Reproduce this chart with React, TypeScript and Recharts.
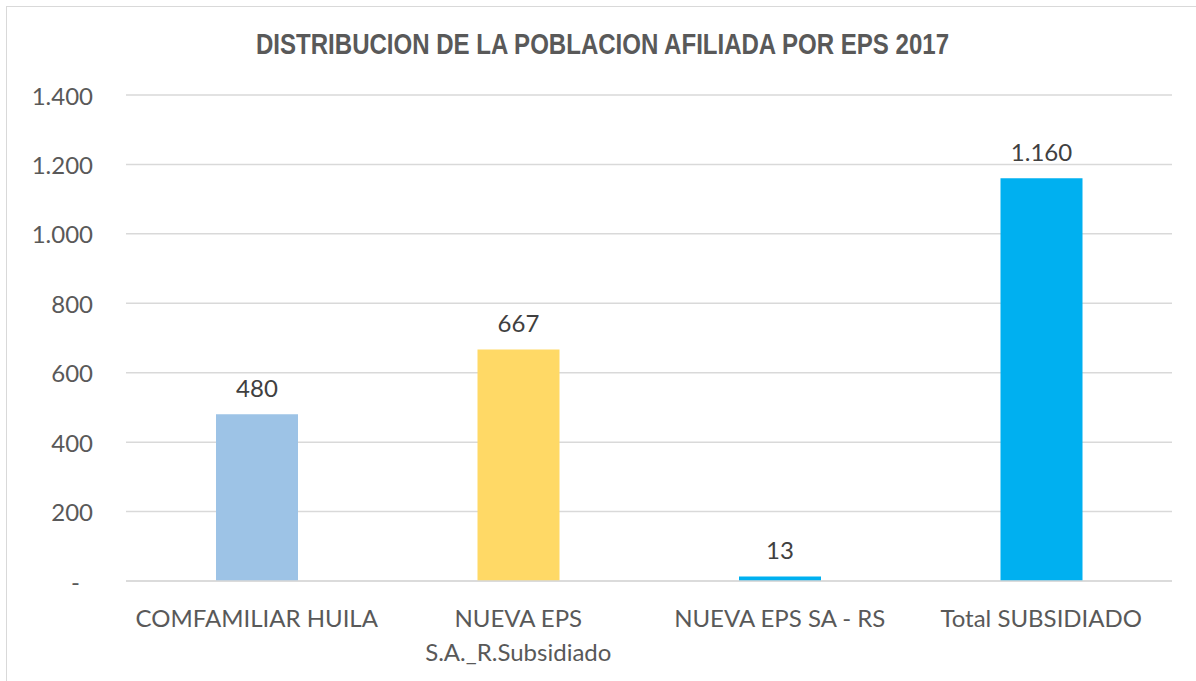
import React from "react";
import { BarChart, Bar, XAxis, YAxis, CartesianGrid, Cell, LabelList } from "recharts";

const categories = ["COMFAMILIAR HUILA", "NUEVA EPS\nS.A._R.Subsidiado", "NUEVA EPS SA - RS", "Total SUBSIDIADO"];
const values = [480, 667, 13, 1160];
const barColors = ["#9DC3E6", "#FFD966", "#00B0F0", "#00B0F0"];
const yTicks = [0, 200, 400, 600, 800, 1000, 1200, 1400];
const title = "DISTRIBUCION DE LA POBLACION AFILIADA POR EPS 2017";

const data = categories.map((c, i) => ({ name: c, value: values[i] }));

const fmt = (v: number) => (v === 0 ? "-" : String(v).replace(/\B(?=(\d{3})+(?!\d))/g, "."));

const FONT = "Lato, 'Open Sans', sans-serif";

const YTick = (props: any) => {
  const { x, y, payload } = props;
  const isZero = payload.value === 0;
  return (
    <text x={isZero ? x - 13 : x} y={y} textAnchor="end" dominantBaseline="central" fill="#595959" fontSize={24} fontFamily={FONT}>
      {fmt(payload.value)}
    </text>
  );
};

const XTick = (props: any) => {
  const { x, y, payload } = props;
  const lines = String(payload.value).split("\n");
  return (
    <g>
      {lines.map((l: string, i: number) => (
        <text key={i} x={x} y={y + 36 + i * 34} textAnchor="middle" dominantBaseline="central" fill="#595959" fontSize={24} fontFamily={FONT}>
          {l}
        </text>
      ))}
    </g>
  );
};

const ValueLabel = (props: any) => {
  const { x, y, width, value } = props;
  return (
    <text x={x + width / 2} y={y - 27} textAnchor="middle" dominantBaseline="central" fill="#404040" fontSize={24} fontFamily={FONT}>
      {fmt(value)}
    </text>
  );
};

export default function App() {
  return (
    <div
      style={{
        position: "absolute",
        left: 6,
        top: 6,
        width: 1189,
        height: 674,
        borderLeft: "1px solid #D9D9D9",
        borderTop: "1px solid #D9D9D9",
        background: "#fff",
        overflow: "hidden",
      }}
    >
      <svg width={1189} height={674} style={{ position: "absolute", left: 0, top: 0, pointerEvents: "none", zIndex: 2 }}>
        <text
          x={249}
          y={47}
          textLength={693}
          lengthAdjust="spacingAndGlyphs"
          fill="#595959"
          fontSize={29}
          fontWeight="bold"
          fontFamily="'Liberation Sans', Arial, sans-serif"
        >
          {title}
        </text>
      </svg>
      <BarChart width={1189} height={674} data={data} margin={{ top: 88, right: 24, left: 19, bottom: 0 }} barSize={82}>
        <CartesianGrid vertical={false} stroke="#D9D9D9" strokeWidth={1.5} />
        <XAxis
          dataKey="name"
          height={100}
          axisLine={{ stroke: "#D9D9D9", strokeWidth: 1.5 }}
          tickLine={false}
          tickSize={0}
          tickMargin={0}
          interval={0}
          tick={<XTick />}
        />
        <YAxis
          width={100}
          domain={[0, 1400]}
          ticks={yTicks}
          axisLine={false}
          tickLine={false}
          tickSize={0}
          tickMargin={33}
          tick={<YTick />}
        />
        <Bar dataKey="value" isAnimationActive={false}>
          {data.map((d, i) => (
            <Cell key={i} fill={barColors[i]} />
          ))}
          <LabelList dataKey="value" content={<ValueLabel />} />
        </Bar>
      </BarChart>
    </div>
  );
}
